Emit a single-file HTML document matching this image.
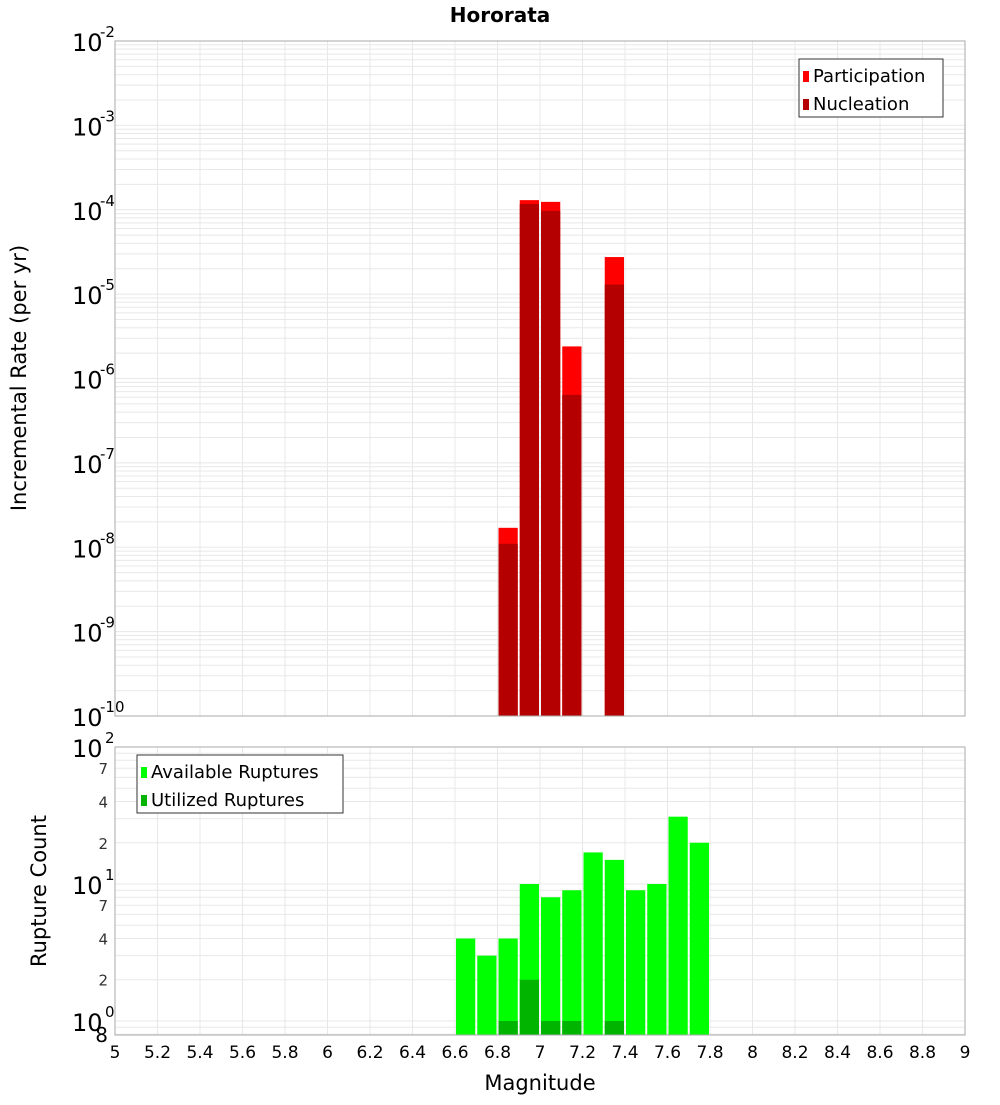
<!DOCTYPE html>
<html><head><meta charset="utf-8"><style>
body{margin:0;background:#fff;}
svg text{font-family:"DejaVu Sans","Liberation Sans",sans-serif;}
</style></head><body>
<svg id="c" width="1000" height="1100" xmlns="http://www.w3.org/2000/svg">
<text x="500" y="22" text-anchor="middle" font-size="20" font-weight="bold">Hororata</text>
<text transform="translate(26,378) rotate(-90)" text-anchor="middle" font-size="21">Incremental Rate (per yr)</text>
<text transform="translate(46,891) rotate(-90)" text-anchor="middle" font-size="21">Rupture Count</text>
<text x="540" y="1090" text-anchor="middle" font-size="21">Magnitude</text>
<g id="g"></g>
</svg>
<script>
const mags=[6.65,6.75,6.85,6.95,7.05,7.15,7.25,7.35,7.45,7.55,7.65,7.75];
const participation=[0,0,1.7e-8,1.3e-4,1.24e-4,2.4e-6,0,2.75e-5,0,0,0,0];
const nucleation=[0,0,1.1e-8,1.17e-4,9.7e-5,6.4e-7,0,1.3e-5,0,0,0,0];
const available=[4,3,4,10,8,9,17,15,9,10,31,20];
const utilized=[0,0,1,2,1,1,0,1,0,0,0,0];
const xTicks=[5,5.2,5.4,5.6,5.8,6,6.2,6.4,6.6,6.8,7,7.2,7.4,7.6,7.8,8,8.2,8.4,8.6,8.8,9];
const topExps=[-2,-3,-4,-5,-6,-7,-8,-9,-10];
const botMinorLabels=[2,4,7];

const NS="http://www.w3.org/2000/svg";
const g=document.getElementById('g');
function mk(t,a,txt){const e=document.createElementNS(NS,t);for(const k in a)e.setAttribute(k,a[k]);if(txt!==undefined)e.textContent=txt;g.appendChild(e);return e;}
const X0=115,X1=965;
const x=m=>X0+(m-5)/4*(X1-X0);
const T0=41,T1=716;
const yT=v=>T0+(-2-Math.log10(v))*(T1-T0)/8;
const B0=747,B1=1035;
const bLo=Math.log10(0.79);
const yB=v=>B0+(2-Math.log10(v))*(B1-B0)/(2-bLo);

// frames & grids
function grid(y0,y1,yf,lo,hi){
  for(let m=5;m<=9.001;m+=0.2){const l=mk('line',{x1:x(m),x2:x(m),y1:y0,y2:y1,stroke:'#e8e8e8','stroke-width':1});
  }
  for(let e=lo;e<hi;e++)for(let k=1;k<10;k++){const v=k*Math.pow(10,e);const yy=yf(v);if(yy<y0||yy>y1)continue;
    const l=mk('line',{x1:X0,x2:X1,y1:yy,y2:yy,stroke:'#e8e8e8','stroke-width':1});
    }
}
grid(T0,T1,yT,-10,-2);
grid(B0,B1,yB,-1,2);

// top bars
const bw=(X1-X0)/40-2;
mags.forEach((m,i)=>{
  if(participation[i]>0){const r=mk('rect',{x:x(m)-bw/2,y:yT(participation[i]),width:bw,height:T1-yT(participation[i]),fill:'#ff0000'});
  }
  if(nucleation[i]>0){const r=mk('rect',{x:x(m)-bw/2,y:yT(nucleation[i]),width:bw,height:T1-yT(nucleation[i]),fill:'#b40000'});
  }
  if(available[i]>0){const r=mk('rect',{x:x(m)-bw/2,y:yB(available[i]),width:bw,height:B1-yB(available[i]),fill:'#00ff00'});
  }
  if(utilized[i]>0){const r=mk('rect',{x:x(m)-bw/2,y:yB(utilized[i]),width:bw,height:B1-yB(utilized[i]),fill:'#00b400'});
  }
});
let f=mk('rect',{x:X0,y:T0,width:X1-X0,height:T1-T0,fill:'none',stroke:'#aaa'});

f=mk('rect',{x:X0,y:B0,width:X1-X0,height:B1-B0,fill:'none',stroke:'#aaa'});


// top y ticks
topExps.forEach(e=>{const yy=yT(Math.pow(10,e));
  const t=mk('text',{x:72,y:yy+10,'font-size':24},'10');
  const s=mk('text',{x:100,y:yy-4,'font-size':15},String(e));});
// bottom y ticks
[0,1,2].forEach(e=>{const yy=yB(Math.pow(10,e));
  const t=mk('text',{x:72,y:yy+10,'font-size':24},'10');
  const s=mk('text',{x:105,y:yy-4,'font-size':15},String(e));});
[0,1].forEach(e=>botMinorLabels.forEach(k=>{const yy=yB(k*Math.pow(10,e));
  const t=mk('text',{x:108,y:yy+6,'font-size':15,'text-anchor':'end',fill:'#333'},String(k));}));
let t8=mk('text',{x:108,y:1042,'font-size':20,'text-anchor':'end'},'8');
// x ticks
xTicks.forEach(m=>{const t=mk('text',{x:x(m),y:1058,'font-size':17,'text-anchor':'middle'},String(m));
  });

// legends
function legend(lx,ly,w,items,name){const b=mk('rect',{x:lx,y:ly,width:w,height:58,fill:'#fff',stroke:'#333'});
  
  items.forEach((it,i)=>{const s=mk('rect',{x:lx+4,y:ly+12+i*28,width:6,height:11,fill:it[1]});
    
    const t=mk('text',{x:lx+14,y:ly+23+i*28,'font-size':18},it[0]);
    });}
legend(799,59,144,[['Participation','#ff0000'],['Nucleation','#b40000']],'top-legend');
legend(137,755,206,[['Available Ruptures','#00ff00'],['Utilized Ruptures','#00b400']],'bottom-legend');
</script>
</body></html>
